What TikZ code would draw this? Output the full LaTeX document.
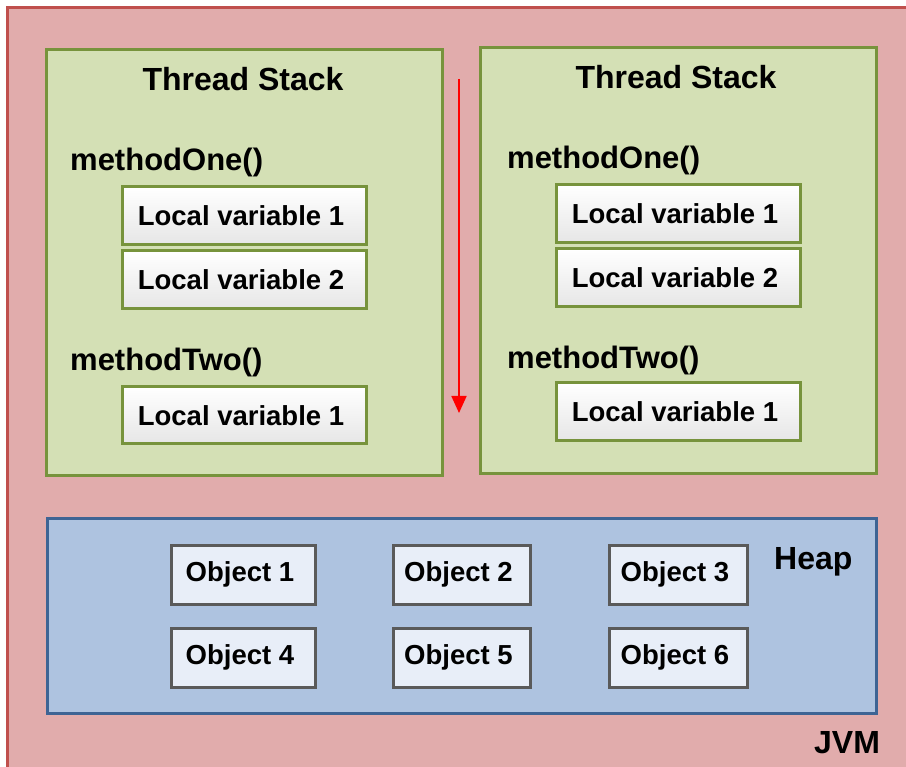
\documentclass[tikz,border=0pt]{standalone}
\usepackage{fontspec}
\setmainfont{Liberation Sans}
\usetikzlibrary{arrows.meta,shadows}
\definecolor{jvmfill}{HTML}{E1ACAC}
\definecolor{jvmline}{HTML}{C0504D}
\definecolor{stackfill}{HTML}{D4E0B5}
\definecolor{stackline}{HTML}{77933C}
\definecolor{heapfill}{HTML}{AEC3E0}
\definecolor{heapline}{HTML}{3E6494}
\definecolor{objfill}{HTML}{E8EEF8}
\definecolor{objline}{HTML}{5A5A5A}
\definecolor{varbottom}{HTML}{E6E6E6}
\tikzset{
  box/.style={rectangle, anchor=north west, inner sep=0pt, outer sep=0pt},
  jvmbox/.style={box, fill=jvmfill, draw=jvmline, line width=3pt},
  stackbox/.style={box, fill=stackfill, draw=stackline, line width=3pt,
    drop shadow={shadow xshift=1.5pt, shadow yshift=-1.5pt, opacity=0.25},
    minimum width=396pt, minimum height=426pt},
  heapbox/.style={box, fill=heapfill, draw=heapline, line width=3pt,
    drop shadow={shadow xshift=1.5pt, shadow yshift=-1.5pt, opacity=0.25}},
  varbox/.style={box, draw=stackline, line width=3pt, top color=white, bottom color=varbottom,
    drop shadow={shadow xshift=1.5pt, shadow yshift=-1.5pt, opacity=0.25},
    minimum width=244pt, minimum height=58pt},
  objbox/.style={box, fill=objfill, draw=objline, line width=3pt,
    drop shadow={shadow xshift=1.5pt, shadow yshift=-1.5pt, opacity=0.25},
    minimum height=59pt},
  boxtext/.style={font=\fontsize{27.5}{30}\selectfont\bfseries, inner sep=0pt, xshift=-3pt},
  heading/.style={font=\fontsize{32}{34}\selectfont\bfseries, inner sep=0pt, anchor=base},
  methodlabel/.style={font=\fontsize{31}{34}\selectfont\bfseries, inner sep=0pt, anchor=base west},
  flow/.style={draw=red, line width=1.8pt, -{Triangle[length=17pt, width=15pt]}}
}
\begin{document}
\begin{tikzpicture}[x=1pt, y=-1pt]
  \useasboundingbox[fill=white] (0,0) rectangle (906,767);
  % JVM area (runs past the right and bottom edges)
  \node[jvmbox, minimum width=920pt, minimum height=780pt] (jvm) at (7,8) {};

  % left thread stack
  \node[stackbox] (tsA) at (46,50) {};
  \node[heading] (tsAtitle) at (243,91) {Thread Stack};
  \node[methodlabel] (tsAone) at (70,171) {methodOne()};
  \node[varbox] (tsAv1) at (122,187) {};
  \node[boxtext] at (tsAv1.center) {Local variable 1};
  \node[varbox] (tsAv2) at (122,251) {};
  \node[boxtext] at (tsAv2.center) {Local variable 2};
  \node[methodlabel] (tsAtwo) at (70,371) {methodTwo()};
  \node[varbox, minimum height=57pt] (tsAv3) at (122,387) {};
  \node[boxtext] at (tsAv3.center) {Local variable 1};

  % right thread stack
  \node[stackbox] (tsB) at (480,48) {};
  \node[heading] (tsBtitle) at (676,89) {Thread Stack};
  \node[methodlabel] (tsBone) at (507,169) {methodOne()};
  \node[varbox] (tsBv1) at (556,185) {};
  \node[boxtext] at (tsBv1.center) {Local variable 1};
  \node[varbox] (tsBv2) at (556,249) {};
  \node[boxtext] at (tsBv2.center) {Local variable 2};
  \node[methodlabel] (tsBtwo) at (507,369) {methodTwo()};
  \node[varbox] (tsBv3) at (556,383) {};
  \node[boxtext] at (tsBv3.center) {Local variable 1};

  % red arrow between the two stacks
  \coordinate (flowtop) at (459,79);
  \coordinate (flowend) at (459,413);
  \draw[flow] (flowtop) -- (flowend);

  % heap with its objects
  \node[heapbox, minimum width=829pt, minimum height=194pt] (heap) at (47,519) {};
  \node[heading, anchor=base west] (heaptitle) at (774,569) {Heap};
  \node[objbox, minimum width=144pt] (o1) at (171,545) {};
  \node[boxtext] at (o1.center) {Object 1};
  \node[objbox, minimum width=137pt] (o2) at (393,545) {};
  \node[boxtext] at (o2.center) {Object 2};
  \node[objbox, minimum width=138pt] (o3) at (609,545) {};
  \node[boxtext] at (o3.center) {Object 3};
  \node[objbox, minimum width=144pt] (o4) at (171,628) {};
  \node[boxtext] at (o4.center) {Object 4};
  \node[objbox, minimum width=137pt] (o5) at (393,628) {};
  \node[boxtext] at (o5.center) {Object 5};
  \node[objbox, minimum width=138pt] (o6) at (609,628) {};
  \node[boxtext] at (o6.center) {Object 6};

  \node[heading, anchor=base west] (jvmtitle) at (814,753) {JVM};
\end{tikzpicture}
\end{document}
